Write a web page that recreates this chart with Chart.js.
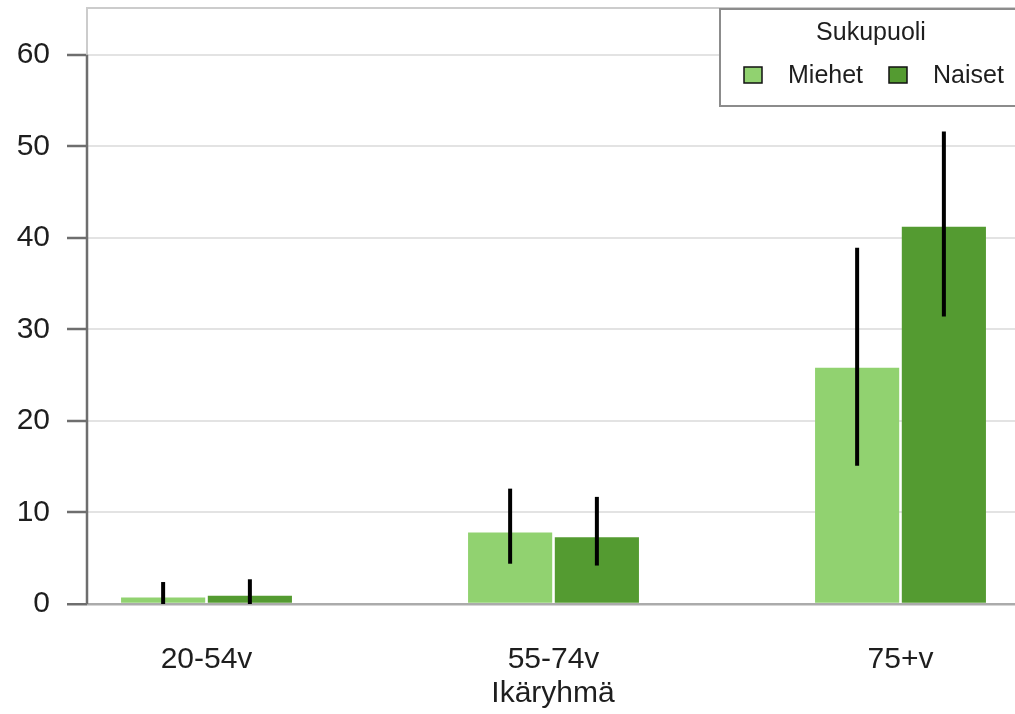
<!DOCTYPE html>
<html>
<head>
<meta charset="utf-8">
<script src="https://cdn.jsdelivr.net/npm/chart.js@4"></script>
<style>
    html, body { margin: 0; padding: 0; background: #fff; overflow: hidden; }
    #wrap { position: relative; width: 1019px; height: 714px; }
</style>
</head>
<body>
<div id="wrap"><canvas id="ageChart"></canvas></div>
<script>
const categories = ["20-54v", "55-74v", "75+v"];
const menValues = [0.7, 7.8, 25.8];
const menLow = [0, 4.4, 15.1];
const menHigh = [2.4, 12.6, 38.9];
const womenValues = [0.9, 7.3, 41.2];
const womenLow = [0, 4.2, 31.4];
const womenHigh = [2.7, 11.7, 51.6];
const yTicks = [0, 10, 20, 30, 40, 50, 60];

const FONT = "'Liberation Sans', Arial, sans-serif";
const lightGreen = '#91d270';
const darkGreen = '#549b31';

// error bars from the lo/hi arrays, drawn on the bar centres
const errorBars = {
    id: 'errorBars',
    afterDatasetsDraw(chart) {
        const ctx = chart.ctx;
        const y = chart.scales.y;
        ctx.save();
        ctx.strokeStyle = '#000';
        ctx.lineWidth = 4;
        chart.data.datasets.forEach((ds, di) => {
            const meta = chart.getDatasetMeta(di);
            meta.data.forEach((bar, i) => {
                ctx.beginPath();
                ctx.moveTo(bar.x, y.getPixelForValue(ds.low[i]));
                ctx.lineTo(bar.x, y.getPixelForValue(ds.high[i]));
                ctx.stroke();
            });
        });
        ctx.restore();
    }
};

// frame + left axis line (dark only between 0 and 60)
const frame = {
    id: 'frame',
    beforeDatasetsDraw(chart) {
        const ctx = chart.ctx;
        const a = chart.chartArea;
        const y = chart.scales.y;
        ctx.save();
        ctx.strokeStyle = '#cccccc';
        ctx.lineWidth = 2;
        ctx.beginPath();
        ctx.moveTo(a.left, a.bottom);
        ctx.lineTo(a.left, a.top);
        ctx.lineTo(a.right + 5, a.top);
        ctx.stroke();
        ctx.strokeStyle = '#6e6e6e';
        ctx.lineWidth = 2.5;
        ctx.beginPath();
        ctx.moveTo(a.left, y.getPixelForValue(0));
        ctx.lineTo(a.left, y.getPixelForValue(60));
        ctx.stroke();
        ctx.restore();
    },
    afterDraw(chart) {
        // legend box
        const ctx = chart.ctx;
        ctx.save();
        ctx.fillStyle = '#fff';
        ctx.fillRect(720, 9, 310, 97);
        ctx.strokeStyle = '#8c8c8c';
        ctx.lineWidth = 2;
        ctx.strokeRect(720, 9, 310, 97);
        ctx.fillStyle = '#1e1e1e';
        ctx.font = '25px ' + FONT;
        ctx.textAlign = 'center';
        ctx.textBaseline = 'middle';
        ctx.fillText('Sukupuoli', 871, 33);
        const items = [[744, 788], [889, 933]];
        chart.data.datasets.forEach((ds, i) => {
            const [bx, tx] = items[i];
            ctx.fillStyle = ds.backgroundColor;
            ctx.fillRect(bx, 67, 18, 16);
            ctx.strokeStyle = '#111';
            ctx.lineWidth = 1.5;
            ctx.strokeRect(bx, 67, 18, 16);
            ctx.fillStyle = '#1e1e1e';
            ctx.textAlign = 'left';
            ctx.fillText(ds.label, tx, 76);
        });
        ctx.restore();
    }
};

const ctx = document.getElementById('ageChart').getContext('2d');
new Chart(ctx, {
    type: 'bar',
    data: {
        datasets: [{
            label: 'Miehet',
            data: menValues.map((v, i) => ({ x: i + 1, y: v })),
            low: menLow,
            high: menHigh,
            backgroundColor: lightGreen
        }, {
            label: 'Naiset',
            data: womenValues.map((v, i) => ({ x: i + 1, y: v })),
            low: womenLow,
            high: womenHigh,
            backgroundColor: darkGreen
        }]
    },
    options: {
        responsive: true,
        maintainAspectRatio: false,
        animation: false,
        layout: { padding: { top: 8, left: 0, right: 0, bottom: 0 } },
        categoryPercentage: 0.5,
        barPercentage: 0.97,
        plugins: {
            legend: { display: false },
            tooltip: { enabled: false }
        },
        scales: {
            x: {
                type: 'linear',
                min: 0.6556,
                max: 3.3415,
                offset: false,
                grid: { display: false, drawTicks: false },
                border: { display: false },
                afterBuildTicks: s => { s.ticks = categories.map((c, i) => ({ value: i + 1 })); },
                afterFit: s => { s.height = 110; s.paddingLeft = 0; s.paddingRight = 0; },
                ticks: {
                    autoSkip: false,
                    maxRotation: 0,
                    padding: 38,
                    color: '#1e1e1e',
                    font: { family: FONT, size: 30 },
                    callback: v => categories[Math.round(v) - 1] || ''
                },
                title: {
                    display: true,
                    text: 'Ikäryhmä',
                    color: '#1e1e1e',
                    font: { family: FONT, size: 30 },
                    padding: { top: 0, bottom: 2 }
                }
            },
            y: {
                min: 0,
                max: 65.1,
                afterBuildTicks: s => { s.ticks = yTicks.map(v => ({ value: v })); },
                afterFit: s => { s.width = 87; s.paddingTop = 0; s.paddingBottom = 0; },
                border: { display: false },
                grid: {
                    tickLength: 20,
                    tickWidth: 2.5,
                    tickColor: '#6e6e6e',
                    lineWidth: c => c.tick && c.tick.value === 0 ? 2.5 : 2,
                    color: c => c.tick && c.tick.value === 0 ? '#ababab' : '#e3e3e3'
                },
                ticks: {
                    padding: 17,
                    color: '#1e1e1e',
                    font: { family: FONT, size: 30 }
                }
            }
        }
    },
    plugins: [frame, errorBars]
});
</script>
</body>
</html>
